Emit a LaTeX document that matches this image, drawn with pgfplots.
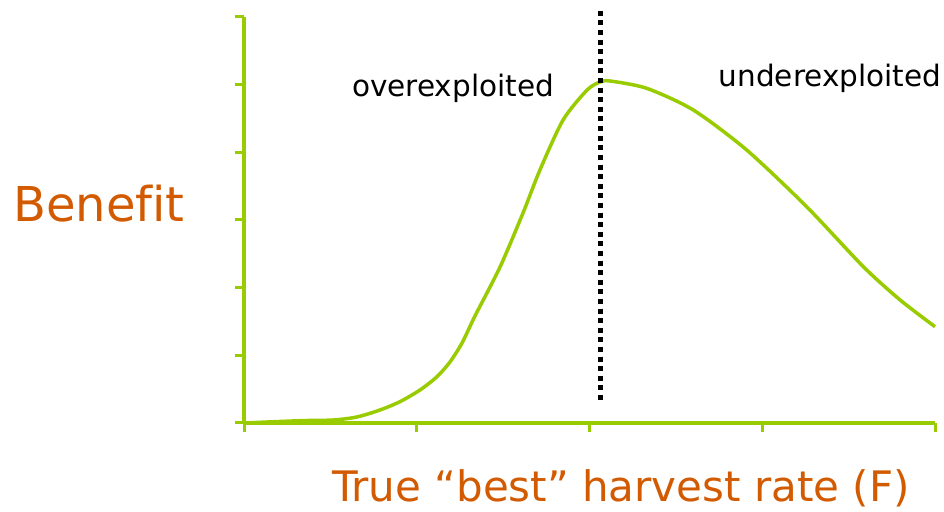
\documentclass[border=0pt]{standalone}
\usepackage{fontspec}
\setmainfont{DejaVu Sans}[Ligatures=CommonOff]
\usepackage{pgfplots}
\pgfplotsset{compat=1.18}
\definecolor{lgreen}{RGB}{153,204,0}
\definecolor{lorange}{RGB}{210,90,0}
\begin{document}
\begin{tikzpicture}[x=1bp,y=1bp]
\useasboundingbox (0,0) rectangle (944,512);
\begin{axis}[
  at={(244bp,89bp)}, anchor=south west,
  scale only axis, width=691bp, height=406bp,
  xmin=0, xmax=4, ymin=0, ymax=6,
  axis lines=left,
  axis line style={-, lgreen, line width=4bp},
  xtick={0,1,2,3,4}, ytick={0,1,2,3,4,5,6},
  xticklabels={}, yticklabels={},
  tick style={lgreen, line width=3bp},
  major tick length=9bp,
  xtick align=outside, ytick align=outside,
  clip=false,
]
\addplot[lgreen, line width=3.5bp, smooth, tension=0.45] coordinates {
(0,0) (0.324,0.034) (0.515,0.044) (0.654,0.089) (0.787,0.192) (0.903,0.315)
(1.019,0.488) (1.117,0.684) (1.192,0.901) (1.262,1.182) (1.337,1.581)
(1.482,2.305) (1.615,3.103) (1.713,3.739) (1.847,4.478)
(1.986,4.921) (2.061,5.039) (2.119,5.054) (2.331,4.946) (2.601,4.625)
(2.910,4.034) (3.257,3.196) (3.585,2.310) (3.798,1.818) (4.0,1.423)
};
\addplot[black, line width=5bp, dash pattern=on 5bp off 4.6bp] coordinates {(2.065,6.09) (2.065,0.34)};
\end{axis}
\node[anchor=base, inner sep=0pt, font=\fontsize{29.5bp}{35bp}\selectfont] at (453,415) {overexploited};
\node[anchor=base, inner sep=0pt, font=\fontsize{29.5bp}{35bp}\selectfont] at (830,425) {underexploited};
\node[anchor=base, inner sep=0pt, text=lorange, font=\fontsize{48bp}{56bp}\selectfont] at (99,290) {Benefit};
\node[anchor=base, inner sep=0pt, text=lorange, font=\fontsize{42bp}{50bp}\selectfont] at (621,10) {True “best” harvest rate (F)};
\end{tikzpicture}
\end{document}
